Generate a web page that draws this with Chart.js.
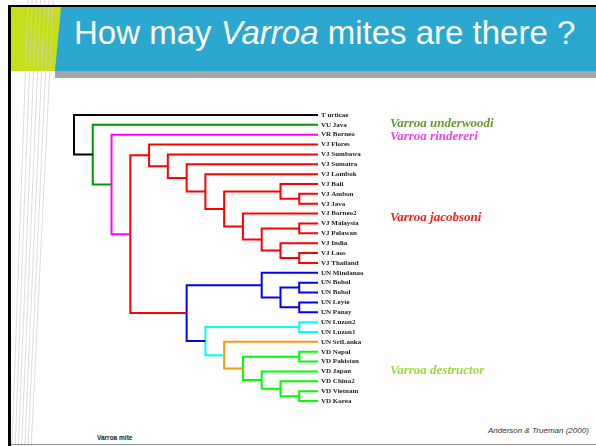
<!DOCTYPE html>
<html>
<head>
<meta charset="utf-8">
<script src="https://cdn.jsdelivr.net/npm/chart.js@4.4.1/dist/chart.umd.min.js"></script>
<style>
  html, body { margin: 0; padding: 0; background: #fff; }
  #slide { position: relative; width: 596px; height: 446px; overflow: hidden; background: #fff;
           font-family: "Liberation Sans", Arial, sans-serif; }
  .frameTop { position: absolute; left: 8px; top: 5px; width: 588px; height: 2px; background: #000; }
  .frameLeft { position: absolute; left: 8px; top: 5px; width: 3px; height: 441px; background: #000; }
  .lime { position: absolute; left: 8px; top: 7px; width: 60px; height: 64px; background: #c6df1b; }
  .banner { position: absolute; left: 55px; top: 7px; width: 541px; height: 64px; background: #2aa8d0;
            clip-path: polygon(6px 0, 100% 0, 100% 100%, 0 100%); }
  .shadow { position: absolute; left: 55px; top: 71px; width: 541px; height: 7px; background: #a6a6a6; }
  .bottomLine { position: absolute; left: 11px; top: 444px; width: 585px; height: 1px; background: #8a8a8a; }
  #stripes { position: absolute; left: 0; top: 0; }
  h1 { position: absolute; left: 74px; top: 16px; margin: 0; font-weight: normal; font-size: 33px;
       line-height: 33px; color: #fff; white-space: nowrap; }
  .note { position: absolute; font-size: 6.5px; font-weight: bold; color: #222; left: 97px; top: 434px; }
  .source { position: absolute; font-size: 8px; font-style: italic; color: #333; left: 488px; top: 426px; }
  #tree { position: absolute; left: 0; top: 0; }
</style>
</head>
<body>
<div id="slide">
  <div class="lime"></div>
  <div class="banner"></div>
  <div class="shadow"></div>
  <svg id="stripes" width="596" height="446"></svg>
  <div class="frameTop"></div>
  <div class="frameLeft"></div>
  <div class="bottomLine"></div>
  <h1>How may <i>Varroa</i> mites are there ?</h1>
  <div class="note">Varroa mite</div>
  <div class="source">Anderson &amp; Trueman (2000)</div>
  <canvas id="tree" width="596" height="446"></canvas>
</div>
<script>
// taxa, top to bottom
const leaves = [
  'T urticae', 'VU Java', 'VR Borneo',
  'VJ Flores', 'VJ Sumbawa', 'VJ Sumatra', 'VJ Lombok', 'VJ Bali', 'VJ Ambon', 'VJ Java',
  'VJ Borneo2', 'VJ Malaysia', 'VJ Palawan', 'VJ India', 'VJ Laos', 'VJ Thailand',
  'UN Mindanao', 'UN Bohol', 'UN Bohol', 'UN Leyte', 'UN Panay', 'UN Luzon2', 'UN Luzon1',
  'UN SriLanka', 'VD Nepal', 'VD Pakistan', 'VD Japan', 'VD China2', 'VD Vietnam', 'VD Korea'
];
const leafDepth = 13;

// internal nodes: [id, depth, upper child, lower child, group]
// a number is a leaf index, a string is another node
const clades = [
  ['A', 0, 0, 'B', 'outgroup'],
  ['B', 1, 1, 'C', 'underwoodi'],
  ['C', 2, 2, 'D', 'rindereri'],
  ['D', 3, 'E', 'Q', 'jacobsoni'],
  ['E', 4, 3, 'F', 'jacobsoni'],
  ['F', 5, 4, 'G', 'jacobsoni'],
  ['G', 6, 5, 'H', 'jacobsoni'],
  ['H', 7, 6, 'I', 'jacobsoni'],
  ['I', 8, 'J', 'L', 'jacobsoni'],
  ['J', 11, 7, 'K', 'jacobsoni'],
  ['K', 12, 8, 9, 'jacobsoni'],
  ['L', 9, 10, 'M', 'jacobsoni'],
  ['M', 10, 'N', 'O', 'jacobsoni'],
  ['N', 12, 11, 12, 'jacobsoni'],
  ['O', 11, 13, 'P', 'jacobsoni'],
  ['P', 12, 14, 15, 'jacobsoni'],
  ['Q', 6, 'R', 'U', 'philippines'],
  ['R', 10, 16, 'S', 'philippines'],
  ['S', 11, 'T', 'T2', 'philippines'],
  ['T', 12, 17, 18, 'philippines'],
  ['T2', 12, 19, 20, 'philippines'],
  ['U', 7, 'V', 'W', 'luzon'],
  ['V', 12, 21, 22, 'luzon'],
  ['W', 8, 23, 'X', 'srilanka'],
  ['X', 9, 'Y', 'Z', 'destructor'],
  ['Y', 12, 24, 25, 'destructor'],
  ['Z', 10, 26, 'Z2', 'destructor'],
  ['Z2', 11, 27, 'Z3', 'destructor'],
  ['Z3', 12, 28, 29, 'destructor']
];

// species names and the row they sit on
const speciesNames = ['Varroa underwoodi', 'Varroa rindereri', 'Varroa jacobsoni', 'Varroa destructor'];
const speciesRows = [0.85, 2.2, 10.4, 25.9];

const groupColours = {
  outgroup: '#000000', underwoodi: '#009900', rindereri: '#ff00ff', jacobsoni: '#ff0000',
  philippines: '#0000ff', luzon: '#00ffff', srilanka: '#ff9900', destructor: '#00ff00'
};
const speciesColours = ['#669933', '#ee44ee', '#ff1a1a', '#99dd33'];

// slide stripes
const svg = document.getElementById('stripes');
for (let i = 0; i < 7; i++) {
  const l = document.createElementNS('http://www.w3.org/2000/svg', 'line');
  l.setAttribute('x1', 28 + 4.2 * i); l.setAttribute('y1', 0);
  l.setAttribute('x2', 12 + 3.2 * i); l.setAttribute('y2', 446);
  l.setAttribute('stroke', '#cfcfcf'); l.setAttribute('stroke-width', '0.7');
  svg.appendChild(l);
}

const byId = {};
clades.forEach(c => { byId[c[0]] = c; });
function rowOf(child) {
  if (typeof child === 'number') return child;
  const c = byId[child];
  return (rowOf(c[2]) + rowOf(c[3])) / 2;
}
function depthOf(child) {
  return typeof child === 'number' ? leafDepth : byId[child][1];
}

// each node is one elbow: upper child -> node -> lower child
const datasets = clades.map(c => {
  const d = c[1];
  const y1 = rowOf(c[2]), y2 = rowOf(c[3]);
  return {
    data: [
      { x: depthOf(c[2]), y: y1 }, { x: d, y: y1 },
      { x: d, y: y2 }, { x: depthOf(c[3]), y: y2 }
    ],
    showLine: true,
    borderColor: groupColours[c[4]],
    borderWidth: 2,
    pointRadius: 0,
    tension: 0,
    borderJoinStyle: 'miter',
    clip: false
  };
});

const speciesPlugin = {
  id: 'species',
  afterDraw(chart) {
    const { ctx, scales: { y }, chartArea } = chart;
    ctx.save();
    ctx.font = 'italic bold 13px "Liberation Serif", "Times New Roman", serif';
    ctx.textBaseline = 'middle';
    speciesNames.forEach((name, i) => {
      ctx.fillStyle = speciesColours[i];
      ctx.fillText(name, chartArea.right + 72, y.getPixelForValue(speciesRows[i]));
    });
    ctx.restore();
  }
};

new Chart(document.getElementById('tree'), {
  type: 'scatter',
  data: { datasets },
  options: {
    responsive: false,
    animation: false,
    layout: { padding: { left: 74, top: 110, bottom: 40, right: 178 } },
    plugins: { legend: { display: false }, tooltip: { enabled: false } },
    scales: {
      x: { type: 'linear', min: 0, max: leafDepth, display: false },
      y: {
        type: 'linear', position: 'right', reverse: true, min: -0.5, max: leaves.length - 0.5,
        grid: { display: false, drawTicks: false },
        border: { display: false },
        afterBuildTicks: axis => { axis.ticks = leaves.map((_, i) => ({ value: i })); },
        afterFit: axis => { axis.width = 100; },
        ticks: {
          autoSkip: false, padding: 3, color: '#1a1a1a',
          font: { family: '"Liberation Serif", "Times New Roman", serif', size: 7, weight: 'bold' },
          callback: v => leaves[v]
        }
      }
    }
  },
  plugins: [speciesPlugin]
});
</script>
</body>
</html>
